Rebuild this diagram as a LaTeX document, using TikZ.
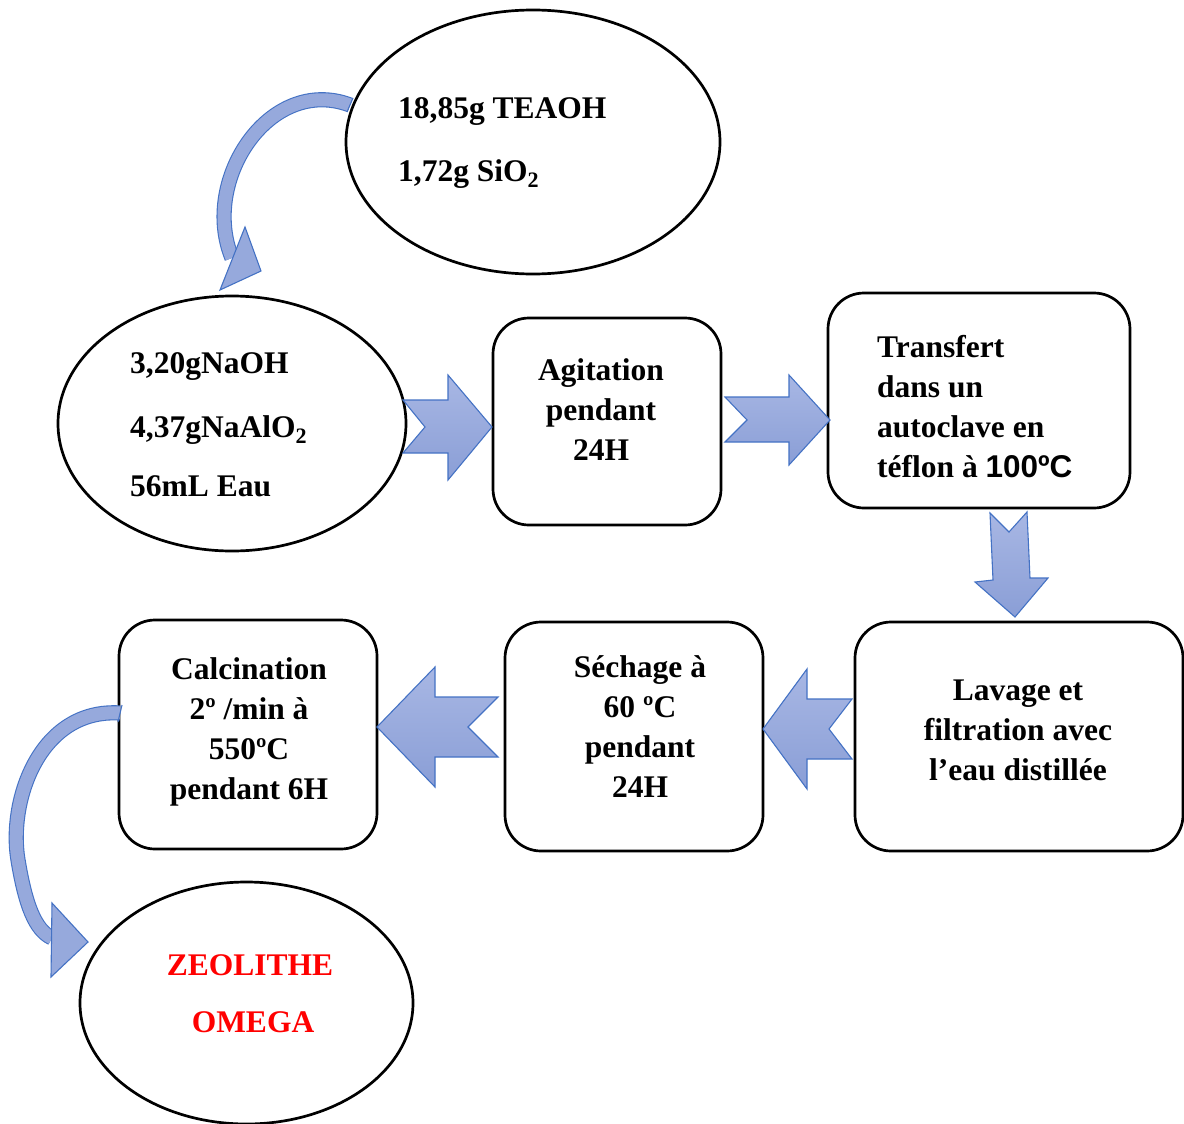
\documentclass[tikz,border=0pt]{standalone}
\usepackage{fontspec}
\setmainfont{Liberation Serif}
\newfontfamily\arialf{Liberation Sans}
\usetikzlibrary{shapes.geometric}
\definecolor{arrfill}{RGB}{150,169,220}
\definecolor{arrlight}{RGB}{168,183,228}
\definecolor{arrdark}{RGB}{138,158,214}
\definecolor{arrline}{RGB}{68,114,196}
\definecolor{zred}{RGB}{255,0,0}
\tikzset{
  shp/.style={draw=black, line width=2.7pt, inner sep=0pt},
  ell/.style={shp, ellipse},
  box/.style={shp, rectangle, rounded corners=36pt},
  txt/.style={font=\bfseries\fontsize{31.5}{40}\selectfont, inner sep=0pt},
  blockarrow/.style={draw=arrline, line width=1.1pt, top color=arrlight, bottom color=arrdark, line join=miter},
  curvshaft/.style={draw=arrline, line width=1.1pt, double=arrfill, double distance=13pt},
  curvhead/.style={draw=arrline, line width=1.1pt, fill=arrfill, line join=miter}
}
\begin{document}
\begin{tikzpicture}[x=1pt,y=-1pt]
\useasboundingbox (0,0) rectangle (1184,1124);
% shapes
\node[ell, minimum width=374pt, minimum height=264pt] (teaoh) at (533,142) {};
\node[ell, minimum width=348pt, minimum height=255pt] (naoh) at (232,423.5) {};
\node[box, minimum width=228pt, minimum height=207pt] (agit) at (607,421.5) {};
\node[box, minimum width=302pt, minimum height=215pt] (trans) at (979,400.5) {};
\node[box, minimum width=328pt, minimum height=229pt] (lav) at (1019,736.5) {};
\node[box, minimum width=258pt, minimum height=229pt] (sech) at (634,736.5) {};
\node[box, minimum width=258pt, minimum height=229pt] (calc) at (248,734.5) {};
\node[ell, minimum width=333pt, minimum height=242pt] (zeo) at (246.5,1003) {};
% texts
\node[txt, anchor=base west] (t1) at (398,118) {18,85g TEAOH};
\node[txt, anchor=base west] (t2) at (398,181) {1,72g SiO\textsubscript{2}};
\node[txt, anchor=base west] (t3) at (130,373) {3,20gNaOH};
\node[txt, anchor=base west] (t4) at (130,437) {4,37gNaAlO\textsubscript{2}};
\node[txt, anchor=base west] (t5) at (130,496) {56mL Eau};
\node[txt, align=center] (tagit) at (601,410) {Agitation\\pendant\\24H};
\node[txt, align=left, anchor=west] (ttrans) at (877,407) {Transfert\\dans un\\autoclave en\\téflon à {\arialf 100ºC}};
\node[txt, align=center] (tlav) at (1018,730) {Lavage et\\filtration avec\\l’eau distillée};
\node[txt, align=center] (tsech) at (640,727) {Séchage à\\60 ºC\\pendant\\24H};
\node[txt, align=center] (tcalc) at (249,732) {Calcination\\2º /min à\\550ºC\\pendant 6H};
\node[txt, text=zred] (tz1) at (250,965) {ZEOLITHE};
\node[txt, text=zred] (tz2) at (253,1022) {OMEGA};
% block arrows
\draw[blockarrow] (403,400) -- (448,400) -- (448,375) -- (492,427) -- (448,480) -- (448,453) -- (403,453) -- (425,427) -- cycle;
\draw[blockarrow] (725,397) -- (789,397) -- (789,375) -- (830,420) -- (789,465) -- (789,442) -- (725,442) -- (747,420) -- cycle;
\draw[blockarrow] (990,513) -- (1009,532) -- (1027,512) -- (1030,578) -- (1048,578) -- (1015,617) -- (975,582) -- (993,580) -- cycle;
\draw[blockarrow] (852,699) -- (807,699) -- (807,669) -- (763,729) -- (807,789) -- (807,759) -- (852,759) -- (829,729) -- cycle;
\draw[blockarrow] (498,697) -- (435,697) -- (435,667) -- (377,727) -- (435,787) -- (435,757) -- (498,757) -- (468,727) -- cycle;
% curved arrows
\coordinate (c1s) at (350,105);
\coordinate (c1e) at (232,258);
\draw[curvshaft] (c1s) .. controls (270,75) and (200,180) .. (c1e);
\draw[arrline, line width=1.1pt] (353,98) -- (347,112);
\draw[curvhead] (245,227) -- (261,271) -- (220,290) -- cycle;
\coordinate (c2s) at (120,713);
\coordinate (c2m) at (18,860);
\coordinate (c2e) at (52,938);
\draw[curvshaft] (c2s) .. controls (40,708) and (8,800) .. (c2m) .. controls (25.5,905) and (35,930) .. (c2e);
\draw[arrline, line width=1.1pt] (122,705) -- (118,722);
\draw[curvhead] (52,903) -- (88,942) -- (51,977) -- cycle;
\end{tikzpicture}
\end{document}
